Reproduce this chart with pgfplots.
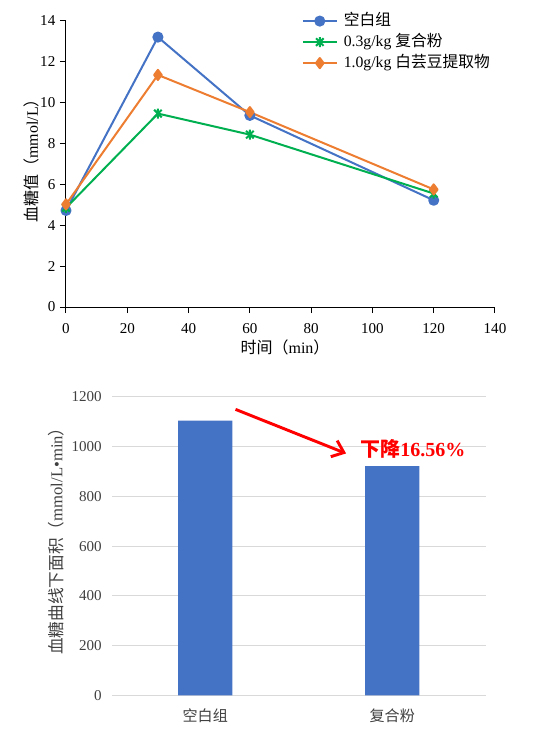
\documentclass[border=0pt]{standalone}
\usepackage{fontspec}
\setmainfont{Liberation Serif}
\newfontfamily\cjk{Noto Sans CJK SC}
\usepackage{pgfplots}
\pgfplotsset{compat=1.18}
\usetikzlibrary{arrows.meta}
\definecolor{cblue}{HTML}{4472C4}
\definecolor{cgreen}{HTML}{00B050}
\definecolor{corange}{HTML}{ED7D31}
\definecolor{cgrid}{HTML}{D9D9D9}
\definecolor{ctext}{HTML}{404040}
\pgfdeclareplotmark{xstar}{%
  \pgfpathmoveto{\pgfqpoint{0pt}{\pgfplotmarksize}}%
  \pgfpathlineto{\pgfqpoint{0pt}{-\pgfplotmarksize}}%
  \pgfpathmoveto{\pgfqpoint{-0.75\pgfplotmarksize}{-0.75\pgfplotmarksize}}%
  \pgfpathlineto{\pgfqpoint{0.75\pgfplotmarksize}{0.75\pgfplotmarksize}}%
  \pgfpathmoveto{\pgfqpoint{-0.75\pgfplotmarksize}{0.75\pgfplotmarksize}}%
  \pgfpathlineto{\pgfqpoint{0.75\pgfplotmarksize}{-0.75\pgfplotmarksize}}%
  \pgfusepathqstroke}
\newcommand\fs{\fontsize{11.3}{13.5}\selectfont}
\newcommand\fl{\fontsize{12}{14}\selectfont}
\begin{document}
\begin{tikzpicture}
\path (0,0) rectangle (417.75pt,-558pt);
% ---------- top line chart ----------
\begin{axis}[
  at={(49.5pt,-230.25pt)}, anchor=south west, scale only axis,
  width=321.75pt, height=214.7pt,
  xmin=0, xmax=140, ymin=0, ymax=14,
  xtick={0,20,...,140}, ytick={0,2,...,14},
  axis x line*=bottom, axis y line*=left,
  tick align=outside, major tick length=4.5pt,
  tick style={black, line width=0.75pt},
  axis line style={black, line width=0.75pt},
  /pgf/number format/assume math mode=true,
  ticklabel style={font=\fs},
  xticklabel style={anchor=center, yshift=-12pt},
  yticklabel style={anchor=east, xshift=0pt},
  every axis y label/.style={at={(axis description cs:-0.080,0.524)}, rotate=90, anchor=center, font=\fl},
  every axis x label/.style={at={(axis description cs:0.5105,-0.1397)}, anchor=center, font=\fl},
  ylabel={{\cjk 血糖值（}mmol/L{\cjk ）}},
  xlabel={{\cjk 时间（}min{\cjk ）}},
  legend cell align=left,
  legend style={at={(axis description cs:0.549,1.030)}, anchor=north west, draw=none, fill=none,
    font=\fontsize{11.8}{14}\selectfont, inner sep=0pt, row sep=2.75pt,
    nodes={inner sep=1pt, text height=9pt, text depth=2pt}},
  legend image code/.code={\draw[mark repeat=2,mark phase=2] plot coordinates {(0pt,0pt) (12.75pt,0pt) (25.5pt,0pt)};\path (29pt,0pt);},
  clip=false,
]
\addplot[cblue, line width=1.5pt, line join=round, mark=*, mark size=3.4pt] coordinates {(0,4.72)(30,13.2)(60,9.37)(120,5.22)};
\addlegendentry{{\cjk 空白组}}
\addplot[cgreen, line width=1.5pt, line join=round, mark=xstar, mark size=3.8pt, mark options={line width=1.5pt}] coordinates {(0,4.85)(30,9.46)(60,8.43)(120,5.55)};
\addlegendentry{0.3g/kg {\cjk 复合粉}}
\addplot[corange, line width=1.5pt, line join=round, mark=diamond*, mark size=3.8pt] coordinates {(0,5.02)(30,11.35)(60,9.53)(120,5.75)};
\addlegendentry{1.0g/kg {\cjk 白芸豆提取物}}
\end{axis}
% ---------- bottom bar chart ----------
\begin{axis}[
  at={(83.8pt,-521.6pt)}, anchor=south west, scale only axis,
  width=280.5pt, height=224.1pt,
  xmin=-0.5, xmax=1.5, ymin=0, ymax=1200,
  ytick={0,200,...,1200}, xtick={0,1},
  xticklabels={{\cjk 空白组},{\cjk 复合粉}},
  ymajorgrids, grid style={cgrid, line width=0.75pt},
  axis line style={draw=none}, major tick length=0pt,
  /pgf/number format/assume math mode=true,
  /pgf/number format/1000 sep={},
  ticklabel style={font=\fs, text=ctext},
  xticklabel style={anchor=center, yshift=-15pt},
  yticklabel style={anchor=east, xshift=-4pt},
  every axis y label/.style={at={(axis description cs:-0.149,0.530)}, rotate=90, anchor=center, font=\fontsize{12.5}{15}\selectfont, text=ctext},
  ylabel={{\cjk 血糖曲线下面积（}mmol/L•min{\cjk ）}},
  ybar, bar width=40.7pt,
  clip=false,
]
\addplot[fill=cblue, draw=none] coordinates {(0,1104)(1,921)};
\draw[red, line width=2.2pt, -{Straight Barb[length=8pt,width=13pt,line width=2.2pt]}] (axis cs:0.162,1149) -- (axis cs:0.753,972);
\node[red, font={\fontsize{15}{17}\selectfont\bfseries}, inner sep=0pt] at (axis cs:1.111,990) {{\cjk\bfseries 下降}16.56\%};
\end{axis}
\end{tikzpicture}
\end{document}
